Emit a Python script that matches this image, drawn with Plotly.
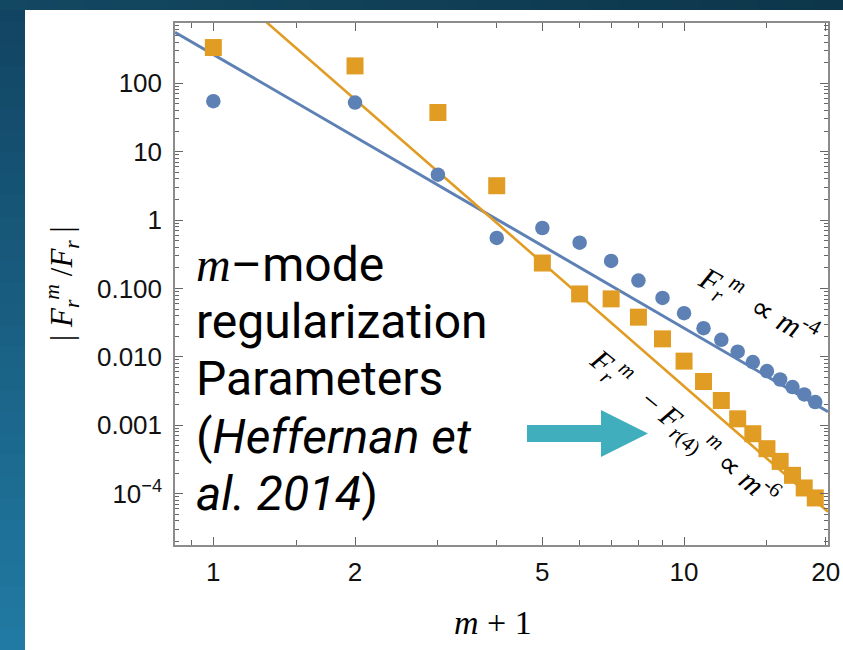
import plotly.graph_objects as go

# ---- data ----
m_plus_1 = [1, 2, 3, 4, 5, 6, 7, 8, 9, 10, 11, 12, 13, 14, 15, 16, 17, 18, 19]
blue_vals = [54.6, 52, 4.6, 0.546, 0.764, 0.466, 0.252, 0.130, 0.0726, 0.0434,
             0.0262, 0.0177, 0.0119, 0.00837, 0.00618, 0.00466, 0.00361, 0.00282, 0.00218]
orange_vals = [332, 179, 37.3, 3.17, 0.235, 0.083, 0.0703, 0.038, 0.0183, 0.00865,
               0.00436, 0.0023, 0.00124, 0.000751, 0.000454, 0.000296, 0.000185, 0.000121, 8.65e-5]

# fitted power-law lines (end points)
fit_x = [0.829, 20.22]
blue_fit = [557, 0.00157]
orange_fit = [11430, 5.43e-5]

x_tickvals = [1, 2, 5, 10, 20]
x_ticktext = ["1", "2", "5", "10", "20"]
x_minor = [0.9, 1.5, 3, 4, 6, 7, 8, 9, 15]
y_tickvals = [100, 10, 1, 0.1, 0.01, 0.001, 1e-4]
y_ticktext = ["100", "10", "1", "0.100", "0.010", "0.001", "10<sup>\u22124</sup>"]

BLUE = "#5e81b5"
ORANGE = "#e19c24"

# plot area in pixels
L, R, T, B = 175, 828, 23, 545
W, H = 843, 650


def px(x):
    return (x - L) / (R - L)


def py(y):
    return (B - y) / (B - T)


y_minor = []
for d in range(-5, 3):
    for k in range(2, 10):
        v = k * 10 ** d
        if 1.8e-5 < v < 750:
            y_minor.append(v)

fig = go.Figure()
fig.add_trace(go.Scatter(x=fit_x, y=blue_fit, mode="lines",
                         line=dict(color=BLUE, width=3), showlegend=False, hoverinfo="skip"))
fig.add_trace(go.Scatter(x=fit_x, y=orange_fit, mode="lines",
                         line=dict(color=ORANGE, width=2.6), showlegend=False, hoverinfo="skip"))
fig.add_trace(go.Scatter(x=m_plus_1, y=orange_vals, mode="markers",
                         marker=dict(symbol="square", size=17, color=ORANGE), showlegend=False))
fig.add_trace(go.Scatter(x=m_plus_1, y=blue_vals, mode="markers",
                         marker=dict(symbol="circle", size=14.5, color=BLUE), showlegend=False))

axis_common = dict(showline=True, linecolor="#8c8c8c", linewidth=1.5, mirror="ticks",
                   ticks="inside", ticklen=8, tickcolor="#666666", tickwidth=1.2,
                   showgrid=False, zeroline=False, automargin=False,
                   tickfont=dict(family="Liberation Sans, Arial", size=26, color="#111111"))

fig.update_xaxes(type="log", range=[-0.0814, 1.3058], tickmode="array",
                 tickvals=x_tickvals, ticktext=x_ticktext, ticklabelstandoff=3,
                 minor=dict(tickmode="array", tickvals=x_minor, ticks="inside",
                            ticklen=5, tickcolor="#666666", tickwidth=1),
                 **axis_common)
fig.update_yaxes(type="log", range=[-4.751, 2.880], tickmode="array",
                 tickvals=y_tickvals, ticktext=y_ticktext, ticklabelstandoff=6,
                 minor=dict(tickmode="array", tickvals=y_minor, ticks="inside",
                            ticklen=4, tickcolor="#666666", tickwidth=1),
                 **axis_common)

shapes = []
# base fill for the slide's top bar
shapes.append(dict(type="rect", xref="paper", yref="paper", layer="below",
                   x0=px(-5), x1=px(W + 5), y0=py(10), y1=py(-5),
                   fillcolor="rgb(15,60,84)", line=dict(width=0)))
# left strip gradient (slide background)
n = 30
c0 = (17, 68, 98)
c1 = (33, 122, 163)
for i in range(n):
    t = i / (n - 1)
    col = "rgb(%d,%d,%d)" % tuple(round(a + (b - a) * t) for a, b in zip(c0, c1))
    y0 = i * H / n
    y1 = (i + 1) * H / n + 1
    shapes.append(dict(type="rect", xref="paper", yref="paper", layer="below",
                       x0=px(-2), x1=px(25), y0=py(y1), y1=py(y0),
                       fillcolor=col, line=dict(width=0)))
# top bar gradient
tc0 = (19, 72, 98)
tc1 = (13, 54, 74)
for i in range(n):
    t = i / (n - 1)
    col = "rgb(%d,%d,%d)" % tuple(round(a + (b - a) * t) for a, b in zip(tc0, tc1))
    x0 = i * W / n
    x1 = (i + 1) * W / n + 1
    if i == n - 1:
        x1 = W + 5
    shapes.append(dict(type="rect", xref="paper", yref="paper", layer="below",
                       x0=px(x0), x1=px(x1), y0=py(10), y1=py(-2),
                       fillcolor=col, line=dict(width=0)))

# teal block arrow
arrow_pts = [(527, 425), (601, 425), (601, 410), (648, 433.5), (601, 457), (601, 442), (527, 442)]
path = "M " + " L ".join("%.5f,%.5f" % (px(a), py(b)) for a, b in arrow_pts) + " Z"
shapes.append(dict(type="path", xref="paper", yref="paper", path=path,
                   fillcolor="#40aebd", line=dict(width=0)))

annotations = []
SERIF = "Liberation Serif, Times New Roman, serif"
SANS = "Roboto, Lato, sans-serif"

# slide text block: base size 44 gives a 57 px line pitch, glyphs drawn at 48 px
text_lines = [
    "<span style=\"font-family:'Liberation Serif'\"><i>m</i></span>\u2013mode",
    "regularization",
    "Parameters",
    "(<i>Heffernan et</i>",
    "<i>al. 2014</i>)",
]
block = "<br>".join("<span style=\"font-size:48px\">%s</span>" % t for t in text_lines)
annotations.append(dict(text=block, xref="paper", yref="paper", x=px(194), y=py(379),
                        xanchor="left", yanchor="middle", align="left", showarrow=False,
                        font=dict(family=SANS, size=44, color="#000000")))

annotations.append(dict(
    text="<i>F</i><sub><i>r</i></sub><sup><i>m</i></sup>  \u221d <i>m</i><sup>-4</sup>",
    xref="paper", yref="paper", x=px(758), y=py(307), textangle=29, showarrow=False,
    xanchor="center", yanchor="middle",
    font=dict(family=SERIF, size=31, color="#000000")))
annotations.append(dict(
    text="<i>F</i><sub><i>r</i></sub><sup><i>m</i></sup>   \u2212 <i>F</i><sub><i>r</i>(4)</sub><sup><i>m</i></sup> \u221d <i>m</i><sup>-6</sup>",
    xref="paper", yref="paper", x=px(684), y=py(427), textangle=39, showarrow=False,
    xanchor="center", yanchor="middle",
    font=dict(family=SERIF, size=30, color="#000000")))

# axis titles
annotations.append(dict(
    text="| <i>F</i><sub><i>r</i></sub><sup><i>m</i></sup> /<i>F</i><sub><i>r</i></sub> |",
    xref="paper", yref="paper", x=px(62), y=py(284), textangle=-90, showarrow=False,
    xanchor="center", yanchor="middle",
    font=dict(family=SERIF, size=31, color="#000000")))
annotations.append(dict(
    text="<i>m</i> + 1", xref="paper", yref="paper", x=px(493), y=py(622), showarrow=False,
    xanchor="center", yanchor="middle",
    font=dict(family=SERIF, size=34, color="#000000")))

fig.update_layout(width=W, height=H, autosize=False,
                  margin=dict(l=L, r=W - R, t=T, b=H - B),
                  paper_bgcolor="white", plot_bgcolor="white",
                  shapes=shapes, annotations=annotations, showlegend=False)

fig.write_html("out.html", config={"displayModeBar": False})
